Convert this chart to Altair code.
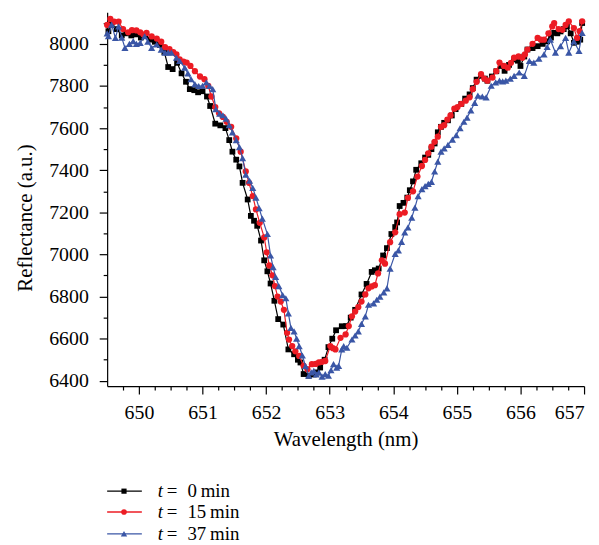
import altair as alt
import pandas as pd

FONT = "Liberation Serif"

# ---- data ----
wl_0 = [649.52, 649.57, 649.65, 649.73, 649.80, 649.88, 649.95, 650.03, 650.10, 650.18,
        650.25, 650.33, 650.40, 650.46, 650.53, 650.60, 650.67, 650.74, 650.80, 650.87,
        650.93, 651.00, 651.07, 651.12, 651.20, 651.28, 651.36, 651.42, 651.47, 651.53,
        651.58, 651.63, 651.71, 651.76, 651.81, 651.86, 651.92, 651.97, 652.02, 652.07,
        652.13, 652.19, 652.27, 652.35, 652.44, 652.50, 652.54, 652.59, 652.67, 652.75,
        652.80, 652.85, 652.92, 652.98, 653.04, 653.10, 653.19, 653.26, 653.33, 653.40,
        653.50, 653.58, 653.66, 653.71, 653.77, 653.84, 653.90, 653.97, 654.03, 654.06,
        654.10, 654.16, 654.22, 654.26, 654.31, 654.36, 654.44, 654.50, 654.55, 654.60,
        654.65, 654.70, 654.75, 654.80, 654.86, 654.92, 654.98, 655.07, 655.13, 655.20,
        655.25, 655.31, 655.38, 655.44, 655.48, 655.55, 655.62, 655.69, 655.75, 655.82,
        655.90, 655.96, 656.00, 656.06, 656.11, 656.19, 656.27, 656.35, 656.42, 656.48,
        656.53, 656.58, 656.63, 656.68, 656.73, 656.79, 656.84, 656.89, 656.94, 656.97]
refl_0 = [8060, 8090, 8070, 8040, 8050, 8040, 8045, 8030, 8040, 8020,
          8010, 7995, 7960, 7890, 7880, 7910, 7860, 7820, 7785, 7780,
          7770, 7775, 7750, 7705, 7621, 7613, 7600, 7543, 7488, 7450,
          7418, 7340, 7261, 7183, 7160, 7136, 7066, 6972, 6920, 6862,
          6780, 6693, 6667, 6549, 6526, 6500, 6487, 6432, 6424, 6430,
          6440, 6463, 6500, 6560, 6600, 6640, 6659, 6660, 6700, 6737,
          6810, 6860, 6917, 6925, 6933, 6995, 7030, 7097, 7130, 7152,
          7230, 7245, 7270, 7305, 7347, 7402, 7433, 7460, 7473, 7500,
          7527, 7580, 7606, 7625, 7637, 7660, 7690, 7715, 7740, 7760,
          7790, 7830, 7848, 7835, 7825, 7845, 7870, 7895, 7872, 7900,
          7926, 7920, 7895, 7940, 7973, 7980, 7989, 8000, 8012, 8030,
          8052, 8050, 8059, 8070, 8083, 8050, 8005, 8010, 8020, 8099]

wl_15 = [649.50, 649.55, 649.61, 649.68, 649.75, 649.83, 649.89, 649.96, 650.02, 650.07,
         650.12, 650.20, 650.28, 650.35, 650.41, 650.48, 650.54, 650.59, 650.64, 650.70,
         650.75, 650.81, 650.88, 650.96, 651.03, 651.09, 651.14, 651.20, 651.26, 651.32,
         651.38, 651.45, 651.53, 651.60, 651.68, 651.73, 651.79, 651.84, 651.90, 651.97,
         652.01, 652.05, 652.10, 652.14, 652.18, 652.23, 652.28, 652.33, 652.36, 652.41,
         652.46, 652.52, 652.59, 652.65, 652.72, 652.78, 652.83, 652.88, 652.93, 653.01,
         653.05, 653.09, 653.17, 653.25, 653.30, 653.35, 653.40, 653.45, 653.50, 653.56,
         653.61, 653.66, 653.71, 653.76, 653.82, 653.87, 653.95, 654.03, 654.10, 654.18,
         654.23, 654.31, 654.38, 654.45, 654.50, 654.55, 654.60, 654.65, 654.70, 654.75,
         654.80, 654.85, 654.90, 654.96, 655.01, 655.07, 655.14, 655.20, 655.25, 655.31,
         655.38, 655.43, 655.48, 655.56, 655.62, 655.67, 655.74, 655.80, 655.85, 655.90,
         655.97, 656.03, 656.07, 656.11, 656.19, 656.27, 656.32, 656.37, 656.44, 656.50,
         656.53, 656.60, 656.66, 656.71, 656.76, 656.84, 656.89, 656.93, 656.97]
refl_15 = [8090, 8118, 8105, 8105, 8070, 8055, 8065, 8064, 8055, 8044,
           8052, 8035, 8025, 8010, 7985, 7975, 7961, 7950, 7926, 7915,
           7911, 7895, 7870, 7845, 7832, 7800, 7750, 7700, 7670, 7653,
           7630, 7606, 7551, 7488, 7394, 7340, 7277, 7214, 7150, 7081,
           7010, 6948, 6901, 6850, 6800, 6776, 6737, 6628, 6596, 6565,
           6540, 6518, 6471, 6455, 6479, 6480, 6487, 6490, 6494, 6565,
           6555, 6549, 6604, 6620, 6660, 6706, 6729, 6750, 6776, 6810,
           6839, 6848, 6854, 6910, 6972, 6956, 7058, 7105, 7191, 7199,
           7269, 7300, 7370, 7420, 7449, 7480, 7512, 7535, 7559, 7606,
           7614, 7640, 7660, 7692, 7700, 7715, 7730, 7746, 7785, 7820,
           7856, 7835, 7825, 7840, 7870, 7911, 7895, 7887, 7910, 7934,
           7940, 7934, 7950, 7973, 8000, 8028, 8020, 8020, 8050, 8083,
           8099, 8070, 8067, 8090, 8107, 8075, 8028, 8060, 8107]

wl_37 = [649.50, 649.52, 649.57, 649.63, 649.68, 649.73, 649.78, 649.85, 649.91, 649.96,
         650.02, 650.09, 650.14, 650.20, 650.28, 650.35, 650.41, 650.46, 650.51, 650.59,
         650.64, 650.72, 650.77, 650.82, 650.88, 650.94, 651.00, 651.06, 651.11, 651.16,
         651.21, 651.27, 651.32, 651.37, 651.42, 651.47, 651.53, 651.58, 651.63, 651.68,
         651.74, 651.79, 651.84, 651.89, 651.94, 652.02, 652.07, 652.11, 652.15, 652.20,
         652.26, 652.31, 652.35, 652.39, 652.44, 652.48, 652.52, 652.57, 652.62, 652.67,
         652.71, 652.75, 652.79, 652.83, 652.88, 652.93, 652.98, 653.02, 653.06, 653.11,
         653.14, 653.19, 653.22, 653.27, 653.35, 653.40, 653.45, 653.50, 653.56, 653.61,
         653.69, 653.74, 653.79, 653.85, 653.90, 653.95, 654.03, 654.08, 654.13, 654.18,
         654.23, 654.29, 654.34, 654.39, 654.45, 654.50, 654.55, 654.60, 654.65, 654.70,
         654.75, 654.80, 654.86, 654.93, 654.99, 655.05, 655.11, 655.16, 655.22, 655.28,
         655.33, 655.40, 655.46, 655.54, 655.61, 655.67, 655.72, 655.77, 655.84, 655.90,
         655.98, 656.06, 656.14, 656.21, 656.29, 656.37, 656.42, 656.47, 656.55, 656.63,
         656.71, 656.76, 656.84, 656.92, 656.97]
refl_37 = [8050, 8036, 8091, 8028, 8083, 8030, 7981, 8000, 8013, 8000,
           8005, 8036, 8010, 7981, 7997, 7973, 7958, 7960, 7958, 7934,
           7919, 7887, 7860, 7832, 7809, 7800, 7801, 7817, 7800, 7785,
           7690, 7668, 7661, 7645, 7614, 7580, 7543, 7510, 7457, 7379,
           7350, 7316, 7270, 7220, 7170, 7097, 6995, 6940, 6893, 6850,
           6807, 6792, 6720, 6651, 6635, 6600, 6565, 6520, 6470, 6424,
           6440, 6447, 6430, 6440, 6420, 6432, 6424, 6450, 6479, 6463,
           6471, 6549, 6565, 6557, 6596, 6615, 6635, 6670, 6706, 6761,
           6768, 6785, 6800, 6820, 6839, 6933, 7003, 7019, 7060, 7105,
           7128, 7175, 7222, 7277, 7310, 7324, 7335, 7345, 7394, 7441,
           7488, 7504, 7520, 7545, 7567, 7600, 7630, 7650, 7684, 7720,
           7754, 7750, 7746, 7801, 7817, 7825, 7822, 7825, 7835, 7848,
           7864, 7848, 7919, 7911, 7930, 7950, 7985, 8020, 7958, 7989,
           8028, 7958, 8012, 7966, 8052]

legend_t = ["t", "t", "t"]
legend_eq = ["=", "=", "="]
legend_rest = ["0\u2009min", "15\u2009min", "37\u2009min"]

x_major = [650, 651, 652, 653, 654, 655, 656, 657]
x_minor = [649.75, 650.25, 650.5, 650.75, 651.25, 651.5, 651.75, 652.25, 652.5, 652.75,
           653.25, 653.5, 653.75, 654.25, 654.5, 654.75, 655.25, 655.5, 655.75,
           656.25, 656.5, 656.75]
y_major = [6400, 6600, 6800, 7000, 7200, 7400, 7600, 7800, 8000]
y_minor = [6500, 6700, 6900, 7100, 7300, 7500, 7700, 7900, 8100]

# ---- styles ----
colors = ["#000000", "#ec1c24", "#3a56a6"]
shapes = ["square", "circle", "triangle-up"]
sizes = [34, 40, 52]

xscale = alt.Scale(domain=[649.5, 657.0], nice=False, zero=False)
yscale = alt.Scale(domain=[6375, 8150], nice=False, zero=False)

x_axis = alt.Axis(values=x_major, tickSize=8, labelFontSize=20, titleFontSize=21,
                  labelPadding=9, titlePadding=6, title="Wavelength (nm)", grid=False,
                  orient="bottom", format="d")
y_axis = alt.Axis(values=y_major, tickSize=8, labelFontSize=20, titleFontSize=21,
                  labelPadding=11, titlePadding=13, title="Reflectance (a.u.)", grid=False,
                  orient="left", titleY=207, format="d")

data_layers = []
for wl, rf, col, shp, sz in zip([wl_0, wl_15, wl_37], [refl_0, refl_15, refl_37],
                                colors, shapes, sizes):
    df = pd.DataFrame({"wl": wl, "r": rf})
    base = alt.Chart(df).encode(
        x=alt.X("wl:Q", scale=xscale, axis=x_axis),
        y=alt.Y("r:Q", scale=yscale, axis=y_axis),
        order=alt.Order("wl:Q"),
    )
    data_layers.append(base.mark_line(color=col, strokeWidth=1.2))
    data_layers.append(base.mark_point(shape=shp, filled=True, size=sz, color=col, opacity=1))

main = alt.layer(*data_layers)

minor = alt.Chart(pd.DataFrame({"wl": [650.0], "r": [7000]})).mark_point(opacity=0).encode(
    x=alt.X("wl:Q", scale=xscale,
            axis=alt.Axis(orient="bottom", values=x_minor, tickSize=4, labels=False,
                          domain=False, title=None, grid=False)),
    y=alt.Y("r:Q", scale=yscale,
            axis=alt.Axis(orient="left", values=y_minor, tickSize=4, labels=False,
                          domain=False, title=None, grid=False)),
)

legend_layers = []
row_y = [483, 504, 526]
for col, shp, sz, ty, t1, t2, t3 in zip(colors, shapes, sizes, row_y,
                                        legend_t, legend_eq, legend_rest):
    one = alt.Data(values=[{}])
    legend_layers.append(alt.Chart(one).mark_rule(color=col, strokeWidth=1.3).encode(
        x=alt.value(0), x2=alt.value(35), y=alt.value(ty)))
    legend_layers.append(alt.Chart(one).mark_point(shape=shp, filled=True, size=sz * 0.8,
                                                   color=col, opacity=1).encode(
        x=alt.value(17), y=alt.value(ty)))
    legend_layers.append(alt.Chart(one).mark_text(text=t1, font=FONT, fontStyle="italic",
                                                  fontSize=19, align="left",
                                                  baseline="middle", color="black").encode(
        x=alt.value(51), y=alt.value(ty)))
    legend_layers.append(alt.Chart(one).mark_text(text=t2, font=FONT, fontSize=19,
                                                  align="left", baseline="middle",
                                                  color="black").encode(
        x=alt.value(60), y=alt.value(ty)))
    legend_layers.append(alt.Chart(one).mark_text(text=t3, font=FONT, fontSize=19,
                                                  align="left", baseline="middle",
                                                  color="black").encode(
        x=alt.value(81), y=alt.value(ty)))

chart = alt.layer(main, minor, *legend_layers).resolve_axis(
    x="independent", y="independent"
).properties(
    width=481, height=377,
    padding={"left": 7, "top": 2, "right": 5, "bottom": 0},
).configure_view(stroke=None).configure_axis(
    labelFont=FONT, titleFont=FONT, labelColor="black", titleColor="black",
    domainColor="black", tickColor="black", domainWidth=1.2, tickWidth=1.2,
    titleFontWeight="normal",
)

chart.save("out.html", embed_options={"renderer": "svg", "actions": False})
